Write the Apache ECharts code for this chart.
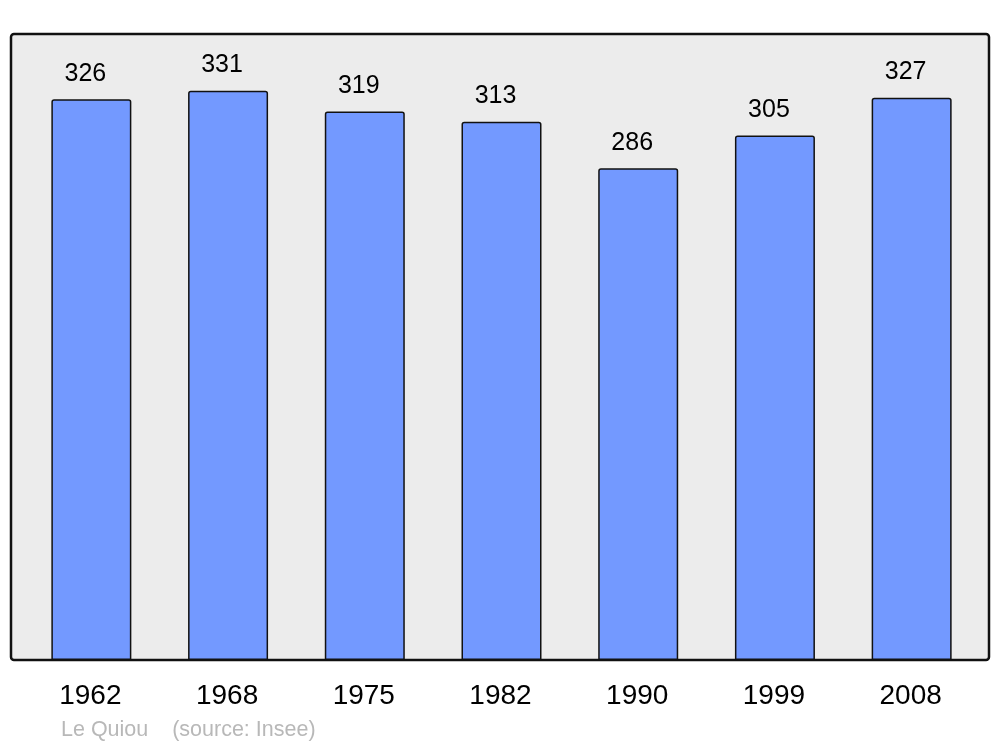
<!DOCTYPE html>
<html><head><meta charset="utf-8">
<script src="https://cdn.jsdelivr.net/npm/echarts@6/dist/echarts.min.js"></script>
<style>html,body{margin:0;padding:0;background:#fff}#c{width:1000px;height:747px}</style>
</head><body><div id="c"></div>
<script>
const years = ['1962','1968','1975','1982','1990','1999','2008'];
const population = [326,331,319,313,286,305,327];
const footerText = 'Le Quiou    (source: Insee)';

const chart = echarts.init(document.getElementById('c'), null, {renderer:'canvas'});
chart.setOption({
  animation:false,
  backgroundColor:'#ffffff',
  textStyle:{fontFamily:'Liberation Sans'},
  graphic:[
    {type:'rect', z:0, shape:{x:11,y:34,width:978,height:626,r:3},
     style:{fill:'#ececec',stroke:'#111',lineWidth:2.5}},
    {type:'text', left:61, top:719, z:10,
     style:{text:footerText, fill:'#b8b8b8', font:'21.5px "Liberation Sans"'}}
  ],
  grid:{left:23,right:20,top:34,bottom:87},
  xAxis:{type:'category',data:years,
    axisLine:{show:false},axisTick:{show:false},
    axisLabel:{color:'#000',fontSize:28,margin:22,padding:[0,2,0,0],fontFamily:'Liberation Sans'}},
  yAxis:{type:'value',min:0,max:364,show:false,splitLine:{show:false}},
  series:[{type:'bar',data:population,barWidth:80,z:5,
    itemStyle:{color:'#7399ff',borderColor:'#111',borderWidth:1.5,borderRadius:[2,2,0,0]},
    label:{show:true,position:'top',distance:13,offset:[-6,0],color:'#000',fontSize:25,fontFamily:'Liberation Sans'}}]
});
</script></body></html>
